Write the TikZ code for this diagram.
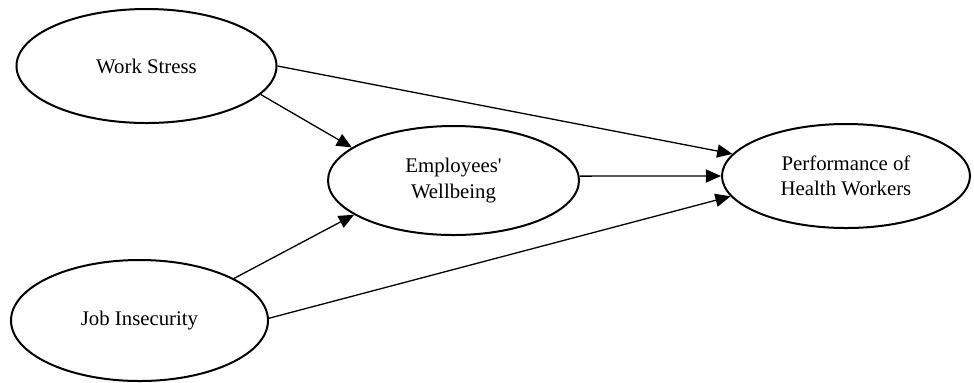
\documentclass[tikz,border=0pt]{standalone}
\usepackage{fontspec}
\setmainfont{Liberation Serif}
\usetikzlibrary{shapes.geometric,arrows.meta}
\begin{document}
\begin{tikzpicture}[x=0.5pt,y=-0.5pt,
  construct/.style={ellipse,draw,line width=1pt,inner sep=0pt,align=center,
    font=\fontsize{10.4}{12.8}\selectfont},
  path/.style={line width=0.65pt,-{Triangle[length=7.6pt,width=6.6pt]}}]
\useasboundingbox (0,0) rectangle (974,382);
\node[construct,minimum width=130pt,minimum height=57pt] (ws) at (146.5,66) {Work Stress};
\node[construct,minimum width=128.5pt,minimum height=60.5pt] (ji) at (139.5,320.5) {Job Insecurity};
\node[construct,minimum width=125.5pt,minimum height=54.5pt] (wb) at (453.5,180.5) {Employees\textquotesingle\\Wellbeing};
\node[construct,minimum width=124pt,minimum height=52pt] (pf) at (846,176) {Performance of\\Health Workers};
\draw[path] (ws.0) -- (pf.169.9);
\draw[path] (ws.-14.6) -- (wb.162.9);
\draw[path] (wb.2) -- (pf.west);
\draw[path] (ji.24.4) -- (wb.199);
\draw[path] (ji.1) -- (pf.190.1);
\end{tikzpicture}
\end{document}
